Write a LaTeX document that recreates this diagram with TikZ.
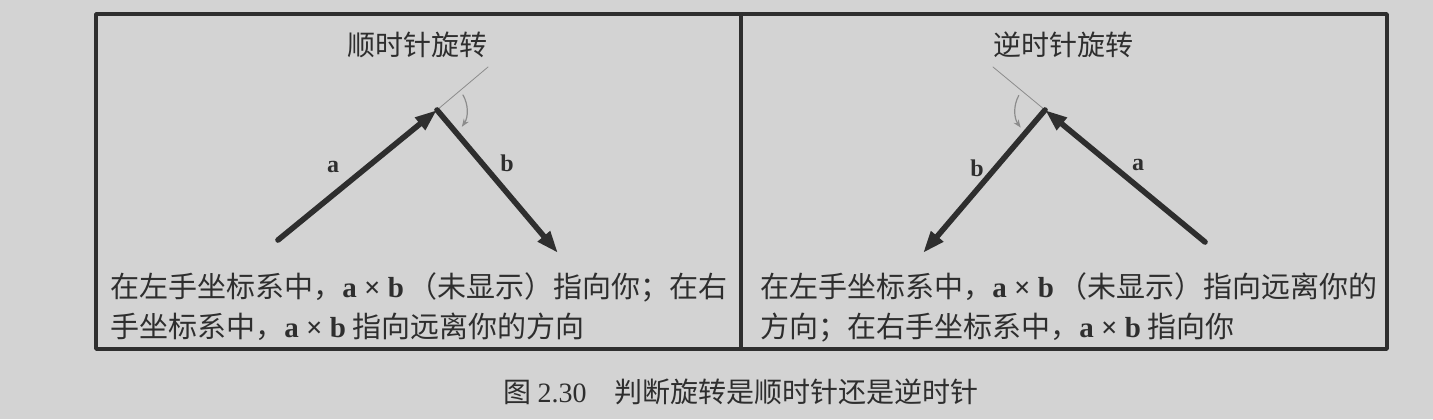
\documentclass[tikz,border=0pt]{standalone}
\usepackage{fontspec}
\setmainfont{Noto Sans CJK SC}
\newfontfamily\latin{Liberation Serif}
\usetikzlibrary{arrows.meta}

\definecolor{paper}{HTML}{D3D3D3}
\definecolor{ink}{HTML}{2E2E2E}
\definecolor{pale}{HTML}{8C8C8C}

\newcommand{\vecab}{{\latin\bfseries a × b}}

\tikzset{
  frame/.style={draw=ink, line width=1.7pt},
  vec/.style={draw=ink, line width=2.8pt, -{Triangle[length=11pt,width=7.5pt]}},
  guide/.style={draw=pale, line width=0.4pt},
  turn/.style={draw=pale, line width=0.6pt, -{Stealth[length=4pt,width=3pt]}},
  lbl/.style={text=ink, inner sep=0pt, font=\latin\bfseries\fontsize{12pt}{14pt}\selectfont},
  title/.style={text=ink, inner sep=0pt, font=\fontsize{14pt}{20pt}\selectfont},
  desc/.style={text=ink, inner sep=0pt, anchor=west, align=left, font=\fontsize{14.5pt}{20pt}\selectfont},
}

\begin{document}
\begin{tikzpicture}[x=0.5pt, y=-0.5pt, line join=round, line cap=round]
\useasboundingbox (0,0) rectangle (1433,419);
\fill[paper] (0,0) rectangle (1433,419);

% frame and divider
\draw[frame] (96,14) rectangle (1387,349);
\draw[frame] (741,14) -- (741,349);

% clockwise panel
\coordinate (La) at (278,240);
\coordinate (Lo) at (437,110);
\coordinate (Lb) at (558,253);
\coordinate (Lt) at (488,67);
\draw[guide] (Lo) -- (Lt);
\draw[vec] (La) -- (Lo);
\draw[vec] (Lo) -- (Lb);
\draw[turn] (Lo) ++(-30:30) arc[start angle=-30, end angle=34, radius=30];
\node[lbl] (la) at (333,167) {a};
\node[lbl] (lb) at (507,163) {b};
\node[title] (ltitle) at (417,45) {顺时针旋转};
\node[desc] (ldesc) at (110,307) {在左手坐标系中，\vecab\,（未显示）指向你；在右\\手坐标系中，\vecab\ 指向远离你的方向};

% counterclockwise panel
\coordinate (Ra) at (1205,242);
\coordinate (Ro) at (1045,110);
\coordinate (Rb) at (923,253);
\coordinate (Rt) at (993,67);
\draw[guide] (Ro) -- (Rt);
\draw[vec] (Ra) -- (Ro);
\draw[vec] (Ro) -- (Rb);
\draw[turn] (Ro) ++(209:30) arc[start angle=209, end angle=144, radius=30];
\node[lbl] (ra) at (1138,165) {a};
\node[lbl] (rb) at (977,168) {b};
\node[title] (rtitle) at (1063,45) {逆时针旋转};
\node[desc] (rdesc) at (760,307) {在左手坐标系中，\vecab\,（未显示）指向远离你的\\方向；在右手坐标系中，\vecab\ 指向你};

% caption
\node[title] (caption) at (741,392) {图 {\latin 2.30}\quad 判断旋转是顺时针还是逆时针};
\end{tikzpicture}
\end{document}
